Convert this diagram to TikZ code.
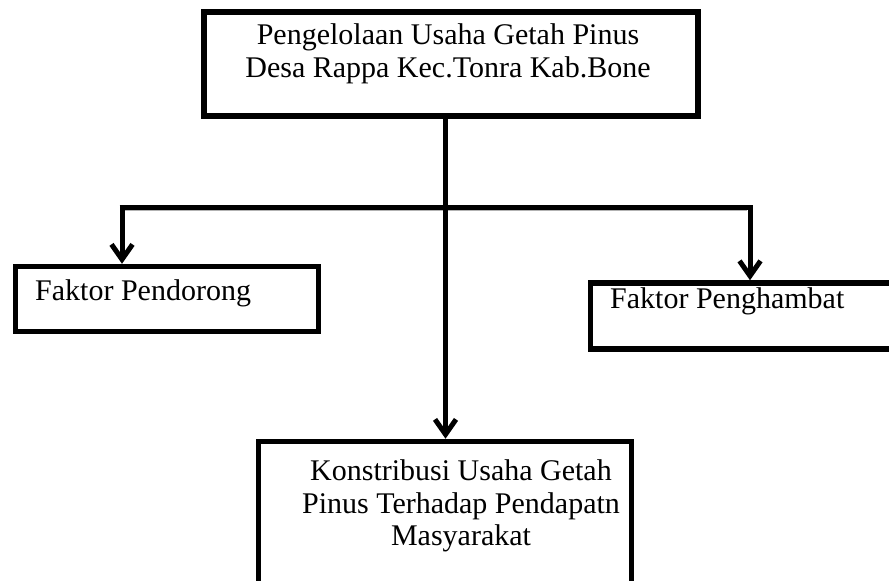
\documentclass[tikz,border=0pt]{standalone}
\usepackage{fontspec}
\setmainfont{Liberation Serif}
\usetikzlibrary{arrows.meta}
\begin{document}
\begin{tikzpicture}[x=1pt,y=-1pt,
  box/.style={draw,line width=5.5pt,inner sep=0pt},
  conn/.style={line width=5pt},
  arr/.style={conn,-{Straight Barb[length=15pt,width=21pt]}},
  txt/.style={font=\fontsize{30}{33}\selectfont,inner sep=0pt,anchor=base}]
\useasboundingbox (0,0) rectangle (889,581);
\begin{scope}
\clip (0,0) rectangle (889,581);
\node[box,minimum width=494pt,minimum height=104pt] (top) at (451,64) {};
\node[box,minimum width=303pt,minimum height=65pt] (left) at (167,299) {};
\node[box,minimum width=330pt,minimum height=66pt] (right) at (755.5,316) {};
\node[box,minimum width=373pt,minimum height=158pt] (bot) at (445,520.5) {};
\end{scope}
\node[txt] (t1) at (448,44) {Pengelolaan Usaha Getah Pinus};
\node[txt] (t2) at (448,77) {Desa Rappa Kec.Tonra Kab.Bone};
\node[txt,anchor=base west] (l1) at (35,300) {Faktor Pendorong};
\node[txt,anchor=base west] (r1) at (610,308) {Faktor Penghambat};
\node[txt] (b1) at (461,480) {Konstribusi Usaha Getah};
\node[txt] (b2) at (461,513) {Pinus Terhadap Pendapatn};
\node[txt] (b3) at (461,545) {Masyarakat};
\coordinate (mj) at (445.5,207);
\coordinate (lj) at (122,207);
\coordinate (rj) at (750,207);
\draw[gray!60,line width=1.5pt] ([xshift=3pt,yshift=-3.5pt]lj) -- ([xshift=-3pt,yshift=-3.5pt]rj);
\draw[arr] (mj |- top.south) -- (mj |- bot.north);
\draw[conn] ([xshift=-2.5pt]lj) -- ([xshift=2.5pt]rj);
\draw[arr] (lj) -- (lj |- left.north);
\draw[arr] (rj) -- (rj |- right.north);
\end{tikzpicture}
\end{document}
